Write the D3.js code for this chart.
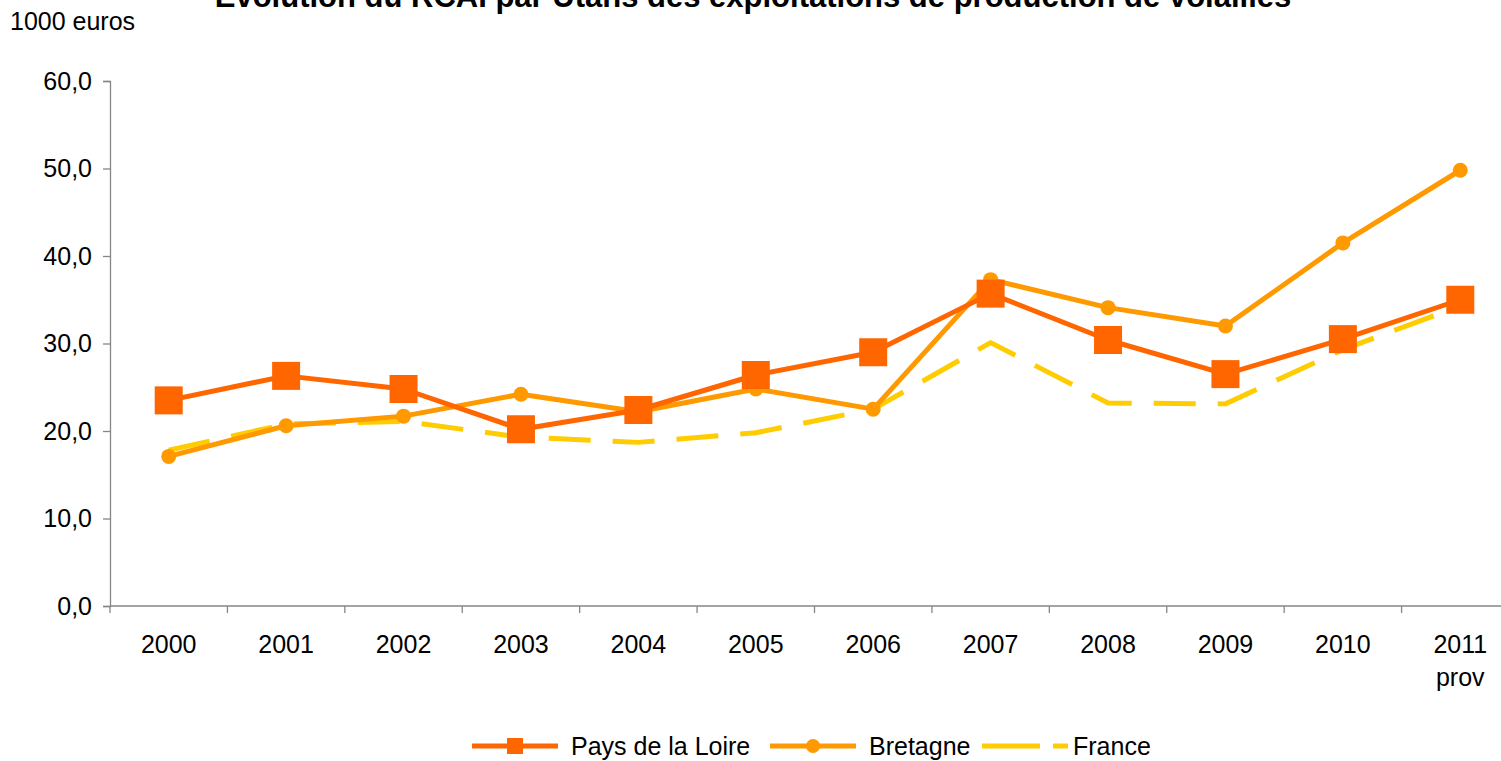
<!DOCTYPE html>
<html>
<head>
<meta charset="utf-8">
<script src="https://cdn.jsdelivr.net/npm/d3@7"></script>
<style>
    body { margin: 0; background: #ffffff; }
    #chart { width: 1501px; height: 761px; overflow: hidden; }
    text { font-family: "Liberation Sans", Arial, sans-serif; }
</style>
</head>
<body>
<div id="chart"></div>
<script>
///////////////////////////////////////////////////////////////////////////////////////////////////

var years = ["2000", "2001", "2002", "2003", "2004", "2005", "2006", "2007", "2008", "2009", "2010", "2011"];
var year_sub = { "2011": "prov" };
var y_ticks = [0, 10, 20, 30, 40, 50, 60];

var pays_de_la_loire = [23.5, 26.3, 24.8, 20.2, 22.4, 26.4, 29.0, 35.7, 30.4, 26.5, 30.5, 35.0];
var bretagne         = [17.1, 20.6, 21.7, 24.2, 22.2, 24.8, 22.5, 37.3, 34.1, 32.0, 41.5, 49.8];
var france           = [17.8, 20.8, 21.1, 19.3, 18.7, 19.8, 22.5, 30.1, 23.2, 23.1, 29.3, 34.3];

var series_names = ["Pays de la Loire", "Bretagne", "France"];

///////////////////////////////////////////////////////////////////////////////////////////////////

function draw_chart(element_id) {

    var div_width = 1501;
    var div_height = 761;
    var margin = { top: 81, right: -18, bottom: 155, left: 110 };
    var axis_color = "#868686";
    var font_size = "25px";

    var series = [
        { name: series_names[0], values: pays_de_la_loire, color: "#FF6600", marker: "square", dash: null },
        { name: series_names[1], values: bretagne,         color: "#FF9900", marker: "circle", dash: null },
        { name: series_names[2], values: france,           color: "#FFCC00", marker: null,     dash: "42,22" }
    ];

    var svg = d3.select('#' + element_id)
      .append("svg")
        .attr("width", div_width)
        .attr("height", div_height);

    // title, cut off by the top edge as in the original
    svg.append("text")
        .attr("x", 753)
        .attr("y", 7)
        .attr("text-anchor", "middle")
        .style("font-size", "31px")
        .style("font-weight", "bold")
        .text("Evolution du RCAI par Utans des exploitations de production de volailles");

    svg.append("text")
        .attr("x", 10)
        .attr("y", 30)
        .style("font-size", "25px")
        .text("1000 euros");

    var x = d3.scaleBand()
        .domain(years)
        .range([margin.left, div_width - margin.right]);

    var y = d3.scaleLinear()
        .domain([0, 60])
        .range([div_height - margin.bottom, margin.top]);

    // y axis
    var y_axis = svg.append("g")
        .attr("transform", "translate(" + margin.left + ",0)")
        .call(d3.axisLeft(y)
            .tickValues(y_ticks)
            .tickSize(7)
            .tickPadding(11)
            .tickFormat(function(d) { return d3.format(".1f")(d).replace(".", ","); }));
    y_axis.select(".domain").attr("stroke", axis_color).attr("stroke-width", 1.3);
    y_axis.selectAll(".tick line").attr("stroke", axis_color).attr("stroke-width", 1.3);
    y_axis.selectAll(".tick text")
        .attr("fill", "#000")
        .style("font-size", font_size)
        .style("font-family", "Liberation Sans, Arial, sans-serif");

    // x axis: ticks sit between categories
    var base_y = y(0);
    var x_axis = svg.append("g");
    x_axis.append("line")
        .attr("x1", margin.left)
        .attr("x2", div_width)
        .attr("y1", base_y)
        .attr("y2", base_y)
        .attr("stroke", axis_color)
        .attr("stroke-width", 1.3);
    x_axis.selectAll(".xtick")
        .data(years)
        .join("line")
            .attr("class", "xtick")
            .attr("x1", function(d) { return x(d); })
            .attr("x2", function(d) { return x(d); })
            .attr("y1", base_y)
            .attr("y2", base_y + 7)
            .attr("stroke", axis_color)
            .attr("stroke-width", 1.3);
    x_axis.selectAll(".xlabel")
        .data(years)
        .join("text")
            .attr("class", "xlabel")
            .attr("x", function(d) { return x(d) + x.bandwidth() / 2; })
            .attr("y", base_y + 47)
            .attr("text-anchor", "middle")
            .style("font-size", font_size)
            .text(function(d) { return d; });
    x_axis.selectAll(".xsub")
        .data(years.filter(function(d) { return year_sub[d]; }))
        .join("text")
            .attr("class", "xsub")
            .attr("x", function(d) { return x(d) + x.bandwidth() / 2; })
            .attr("y", base_y + 80)
            .attr("text-anchor", "middle")
            .style("font-size", font_size)
            .text(function(d) { return year_sub[d]; });

    var line = d3.line()
        .x(function(d, i) { return x(years[i]) + x.bandwidth() / 2; })
        .y(function(d) { return y(d); });

    // draw France first, then Bretagne, then Pays de la Loire on top
    var order = [2, 1, 0];
    order.forEach(function(k) {
        var s = series[k];
        svg.append("path")
            .datum(s.values)
            .attr("fill", "none")
            .attr("stroke", s.color)
            .attr("stroke-width", 5)
            .attr("stroke-linejoin", "round")
            .attr("stroke-dasharray", s.dash)
            .attr("d", line);
        if (s.marker === "square") {
            svg.selectAll(".sq")
                .data(s.values)
                .join("rect")
                    .attr("class", "sq")
                    .attr("x", function(d, i) { return x(years[i]) + x.bandwidth() / 2 - 14; })
                    .attr("y", function(d) { return y(d) - 14; })
                    .attr("width", 28)
                    .attr("height", 28)
                    .attr("fill", s.color);
        } else if (s.marker === "circle") {
            svg.selectAll(".dot")
                .data(s.values)
                .join("circle")
                    .attr("class", "dot")
                    .attr("cx", function(d, i) { return x(years[i]) + x.bandwidth() / 2; })
                    .attr("cy", function(d) { return y(d); })
                    .attr("r", 7.5)
                    .attr("fill", s.color);
        } // end if
    });

    // legend
    var legend_y = 746;
    var legend_x = [472, 770, 982];
    var legend = svg.append("g");
    series.forEach(function(s, i) {
        var lx = legend_x[i];
        legend.append("line")
            .attr("x1", lx)
            .attr("x2", lx + 86)
            .attr("y1", legend_y)
            .attr("y2", legend_y)
            .attr("stroke", s.color)
            .attr("stroke-width", 5)
            .attr("stroke-dasharray", s.dash ? "58,13" : null);
        if (s.marker === "square") {
            legend.append("rect")
                .attr("x", lx + 43 - 8)
                .attr("y", legend_y - 8)
                .attr("width", 16)
                .attr("height", 16)
                .attr("fill", s.color);
        } else if (s.marker === "circle") {
            legend.append("circle")
                .attr("cx", lx + 43)
                .attr("cy", legend_y)
                .attr("r", 7)
                .attr("fill", s.color);
        } // end if
        legend.append("text")
            .attr("x", lx + (s.dash ? 91 : 99))
            .attr("y", legend_y + 9)
            .style("font-size", font_size)
            .text(s.name);
    });

} // end function

///////////////////////////////////////////////////////////////////////////////////////////////////

draw_chart("chart");
</script>
</body>
</html>
